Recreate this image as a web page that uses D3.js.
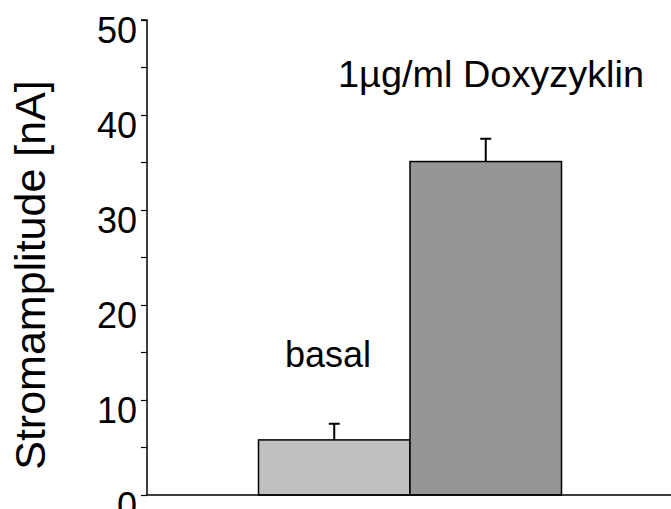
<!DOCTYPE html>
<html>
<head>
<meta charset="utf-8">
<script src="https://cdn.jsdelivr.net/npm/d3@7"></script>
<style>
  html, body { margin: 0; padding: 0; background: #fff; }
  svg { display: block; font-family: "Liberation Sans", Arial, sans-serif; }
</style>
</head>
<body>
<svg id="chart" width="671" height="509"></svg>
<script>
// Bar data: mean current amplitude and its error (upper bar only)
const categories = ["basal", "1µg/ml Doxyzyklin"];
const values = [5.8, 35.1];
const errors = [1.7, 2.4];
const barColors = ["#c0c0c0", "#969696"];
const majorTicks = [0, 10, 20, 30, 40, 50];
const minorTicks = [5, 15, 25, 35, 45];
const yTitle = "Stromamplitude [nA]";

const svg = d3.select("#chart");

const y = d3.scaleLinear().domain([0, 50]).range([495, 20]);
const x = d3.scaleBand().domain(categories).range([258.5, 561.5]).paddingInner(0).paddingOuter(0);

// Bars
svg.append("g").selectAll("rect")
  .data(categories)
  .join("rect")
  .attr("x", d => x(d))
  .attr("y", (d, i) => y(values[i]))
  .attr("width", x.bandwidth())
  .attr("height", (d, i) => y(0) - y(values[i]))
  .attr("fill", (d, i) => barColors[i])
  .attr("stroke", "#000")
  .attr("stroke-width", 1.5);

// Upper error bars
const eg = svg.append("g").attr("stroke", "#000").attr("stroke-width", 2);
categories.forEach((c, i) => {
  const cx = x(c) + x.bandwidth() / 2;
  eg.append("line").attr("x1", cx).attr("x2", cx)
    .attr("y1", y(values[i])).attr("y2", y(values[i] + errors[i]));
  eg.append("line").attr("x1", cx - 5.5).attr("x2", cx + 5.5)
    .attr("y1", y(values[i] + errors[i])).attr("y2", y(values[i] + errors[i]));
});

// Baseline
svg.append("line")
  .attr("x1", 147).attr("x2", 671)
  .attr("y1", y(0)).attr("y2", y(0))
  .attr("stroke", "#000").attr("stroke-width", 1.5);

// Y axis with major labelled ticks
const yAxis = d3.axisLeft(y).tickValues(majorTicks).tickSize(6).tickPadding(5).tickFormat(d3.format("d"));
const ag = svg.append("g").attr("transform", "translate(147,0)").call(yAxis);
ag.select(".domain").attr("stroke", "#000").attr("stroke-width", 1.5).attr("d", `M-6,${y(50)}H0V${y(0)}`);
ag.selectAll(".tick line").attr("stroke", "#000").attr("stroke-width", 1.2);
ag.selectAll(".tick text")
  .attr("font-family", "Liberation Sans, Arial, sans-serif")
  .attr("font-size", 36)
  .attr("fill", "#000")
  .attr("x", -10)
  .attr("dy", "0.62em");

// Minor ticks
svg.append("g").selectAll("line")
  .data(minorTicks)
  .join("line")
  .attr("x1", 141).attr("x2", 147)
  .attr("y1", d => y(d)).attr("y2", d => y(d))
  .attr("stroke", "#000").attr("stroke-width", 1.2);

// Y axis title
svg.append("text")
  .attr("transform", "translate(45,275) rotate(-90)")
  .attr("text-anchor", "middle")
  .attr("font-size", 43)
  .attr("fill", "#000")
  .text(yTitle);

// Category labels above bars
svg.append("text")
  .attr("x", 285).attr("y", 367)
  .attr("font-size", 36)
  .attr("fill", "#000")
  .text(categories[0]);

svg.append("text")
  .attr("x", 338).attr("y", 86.7)
  .attr("font-size", 36)
  .attr("textLength", 306)
  .attr("lengthAdjust", "spacingAndGlyphs")
  .attr("fill", "#000")
  .text(categories[1]);
</script>
</body>
</html>
